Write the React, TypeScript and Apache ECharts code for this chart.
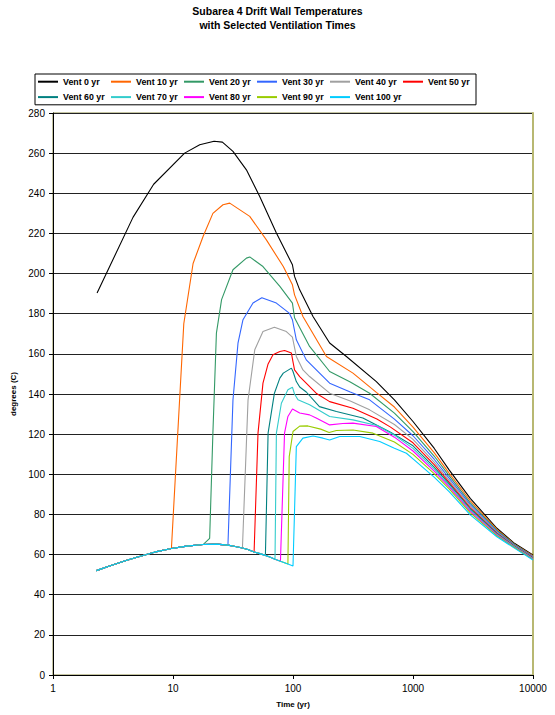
import React, { useEffect, useRef } from "react";
import * as echarts from "echarts";

const TITLE = "Subarea 4 Drift Wall Temperatures\nwith Selected Ventilation Times";
const X_NAME = "Time (yr)";
const Y_NAME = "degrees (C)";

const seriesNames = [
  "Vent 0 yr", "Vent 10 yr", "Vent 20 yr", "Vent 30 yr", "Vent 40 yr", "Vent 50 yr",
  "Vent 60 yr", "Vent 70 yr", "Vent 80 yr", "Vent 90 yr", "Vent 100 yr",
];
const seriesColors = [
  "#000000", "#FF6600", "#339966", "#3366FF", "#A0A0A0", "#FF0000",
  "#008080", "#33CCCC", "#FF00FF", "#99CC00", "#00CCFF",
];
// time at which each ventilated case leaves the shared pre-closure curve
const ventStartTimes = [0, 9.7, 17.8, 28.7, 37.9, 47.4, 58.9, 70.8, 78.6, 90.7, 100];

// shared wall temperature while ventilating
const preVentCurve: number[][] = [
  [2.3, 52], [3, 54.4], [4, 56.9], [5, 58.7], [7, 61.2], [9.7, 63], [13, 64.2],
  [17.8, 65], [23, 65.2], [28.7, 64.7], [33, 64], [37.9, 63.3], [42, 62.5],
  [47.4, 61.3], [52, 60.6], [58.9, 59.6], [64, 58.8], [70.8, 57.7], [78.6, 56.7],
  [90.7, 55.3], [100, 54.3],
];

const vent0: number[][] = [
  [2.33, 190.3], [4.64, 228], [6.9, 244.5], [12.5, 260], [16.7, 264.2], [22, 265.9],
  [25.8, 265.5], [31.6, 260.9], [40.9, 251.7], [52.8, 238.4], [72.7, 220.2],
  [98.9, 204.4], [103, 198.6], [113.7, 191.9], [146.8, 178.6], [202, 165.4],
  [278.6, 158.7], [495, 146.2], [700, 137.1], [1000, 126.3], [1500, 113],
  [2000, 102.2], [3000, 88], [5000, 73.1], [7000, 65.6], [10000, 59.8],
];
const vent10Post: number[][] = [
  [12.3, 175], [14.7, 205], [17.8, 218.5], [21.5, 230], [26.1, 234.3], [29.7, 235.1],
  [43.6, 228.5], [60, 216.8], [83, 203.5], [98.9, 194.4], [103, 189.4], [121, 178.6],
  [190, 158.7], [316, 150.4], [495, 140.8], [700, 133.5], [1000, 123.5], [1500, 110.8],
  [2000, 100.6], [3000, 86.8], [5000, 72.5], [7000, 65.2], [10000, 59.4],
];
const vent20Post: number[][] = [
  [20.2, 68.1], [21.5, 120.5], [23, 170.3], [25.4, 187], [31.6, 201.9], [40.9, 207.7],
  [43.6, 208.3], [56.2, 203.5], [77.7, 193.6], [98.9, 185.3], [103, 178], [137.5, 163.7],
  [202, 151.2], [300, 146], [435, 140.4], [700, 130.5], [1000, 121.3], [1500, 109.1],
  [2000, 99.3], [3000, 85.8], [5000, 72], [7000, 65], [10000, 59.1],
];
const vent30Post: number[][] = [
  [31.6, 137], [34.8, 165.3], [38.3, 177], [46.4, 185.3], [55, 188], [72.7, 185.3],
  [93, 180.3], [98.9, 177], [106.6, 167], [129, 157], [202, 145.4], [300, 141],
  [435, 137.1], [700, 127.5], [1000, 119.2], [1500, 107.5], [2000, 98.1], [3000, 84.9],
  [5000, 71.5], [7000, 64.7], [10000, 58.9],
];
const vent40Post: number[][] = [
  [42.2, 137], [48, 162], [56.2, 171.1], [70, 173.3], [88, 171.1], [98.9, 168.3],
  [106.6, 158.7], [121, 152], [137.5, 148.7], [202, 140.4], [300, 136.5], [435, 132.1],
  [700, 124.8], [1000, 117.4], [1500, 106.1], [2000, 97], [3000, 84.1], [5000, 71.1],
  [7000, 64.4], [10000, 58.6],
];
const vent50Post: number[][] = [
  [51.1, 120.5], [56.2, 145.4], [62, 155], [68.1, 159.5], [77.7, 161.2], [85.1, 161.7],
  [97, 160.4], [100, 156], [103, 152], [113.7, 148.7], [156, 140.4], [202, 136.2],
  [316, 132.9], [500, 127.5], [650, 123.5], [1000, 115.7], [1500, 104.8], [2000, 96],
  [3000, 83.3], [5000, 70.7], [7000, 64.2], [10000, 58.4],
];
const vent60Post: number[][] = [
  [62, 120.5], [70, 140.4], [77.7, 147.9], [83, 150.4], [97, 152.9], [100, 151.2],
  [106.6, 146.2], [113.7, 143.5], [129, 141], [166, 133.7], [230, 131.3], [382, 128],
  [650, 121], [1000, 114.2], [1500, 103.6], [2000, 95.2], [3000, 82.7], [5000, 70.4],
  [7000, 64], [10000, 58.2],
];
const vent70Post: number[][] = [
  [72.7, 120.5], [80, 135.4], [90.7, 142.1], [98.9, 143.4], [103, 140], [110, 137.1],
  [137.5, 134.6], [202, 128.8], [316, 127.1], [500, 124.3], [700, 119.5], [1000, 112.9],
  [1500, 102.6], [2000, 94.4], [3000, 82.1], [5000, 70.1], [7000, 63.9], [10000, 58],
];
const vent80Post: number[][] = [
  [85, 120.5], [90.7, 128.8], [99, 132.5], [113.7, 130.5], [137.5, 129.6], [156, 128],
  [202, 124.6], [260, 125.3], [316, 125.5], [495, 123.8], [700, 118.5], [1000, 111.6],
  [1500, 101.6], [2000, 93.7], [3000, 81.5], [5000, 69.8], [7000, 63.7], [10000, 57.8],
];
const vent90Post: number[][] = [
  [93, 108.8], [100, 121.3], [113.7, 124], [133, 124.1], [170, 122.5], [200, 120.8],
  [230, 121.8], [316, 122.1], [464, 120.5], [700, 116.1], [1000, 109.9], [1500, 100.3],
  [2000, 92.7], [3000, 80.8], [5000, 69.4], [7000, 63.5], [10000, 57.6],
];
const vent100Post: number[][] = [
  [106.6, 113.8], [121, 118], [147, 119.1], [178, 118], [202, 117.1], [245, 118.8],
  [360, 118.8], [528, 116.3], [700, 113], [881, 110.5], [1000, 107.7], [1500, 98.6],
  [2000, 91.4], [3000, 79.8], [5000, 68.9], [7000, 63.2], [10000, 57.3],
];

const postVentData = [
  vent0, vent10Post, vent20Post, vent30Post, vent40Post, vent50Post,
  vent60Post, vent70Post, vent80Post, vent90Post, vent100Post,
];

const FONT = "'Liberation Sans', Arial, sans-serif";

export default function App() {
  const ref = useRef<HTMLDivElement>(null);
  useEffect(() => {
    document.body.style.margin = "0";
    if (!ref.current) return;
    const chart = echarts.init(ref.current, undefined, { renderer: "svg" });
    const series = seriesNames.map((name, i) => {
      const data =
        i === 0
          ? postVentData[0]
          : preVentCurve.filter((p) => p[0] <= ventStartTimes[i]).concat(postVentData[i]);
      return {
        name,
        type: "line",
        data,
        symbol: "none",
        showSymbol: false,
        smooth: false,
        color: seriesColors[i],
        lineStyle: { width: 1.1, color: seriesColors[i] },
        emphasis: { disabled: true },
      };
    });
    chart.setOption({
      animation: false,
      textStyle: { fontFamily: FONT },
      title: {
        text: TITLE,
        left: "center",
        top: 4,
        padding: 0,
        textStyle: { fontSize: 10.5, fontWeight: "bold", color: "#000", lineHeight: 14, fontFamily: FONT },
      },
      legend: {
        data: seriesNames,
        left: 35,
        top: 74,
        width: 445,
        orient: "horizontal",
        icon: "rect",
        padding: [1.5, 3, 1.5, 3],
        itemWidth: 20,
        itemHeight: 2,
        itemGap: 3,
        borderColor: "#000",
        borderWidth: 1,
        textStyle: {
          fontSize: 8.8,
          fontWeight: "bold",
          color: "#000",
          width: 45,
          lineHeight: 12.4,
          fontFamily: FONT,
        },
      },
      grid: {
        left: 53,
        right: 22,
        top: 113,
        bottom: 40,
        show: true,
        borderColor: "#8A8A45",
        borderWidth: 1,
        containLabel: false,
      },
      xAxis: {
        type: "log",
        logBase: 10,
        min: 1,
        max: 10000,
        name: X_NAME,
        nameLocation: "middle",
        nameGap: 25,
        nameTextStyle: { fontSize: 8, fontWeight: "bold", color: "#000", fontFamily: FONT },
        axisLine: { show: true, lineStyle: { color: "#000", width: 1 } },
        axisTick: { show: true, length: 4, lineStyle: { color: "#000" } },
        axisLabel: {
          fontSize: 10,
          color: "#000",
          margin: 8,
          fontFamily: FONT,
          formatter: (v: number) => String(Math.round(v)),
        },
        splitLine: { show: false },
        minorTick: { show: false },
      },
      yAxis: [
        {
          type: "value",
          min: 0,
          max: 280,
          interval: 20,
          name: Y_NAME,
          nameLocation: "middle",
          nameGap: 30,
          nameRotate: 90,
          nameTextStyle: { fontSize: 8, fontWeight: "bold", color: "#000", fontFamily: FONT },
          axisLine: { show: true, lineStyle: { color: "#000", width: 1 } },
          axisTick: { show: true, length: 4, lineStyle: { color: "#000" } },
          axisLabel: { fontSize: 10, color: "#000", margin: 8, fontFamily: FONT },
          splitLine: { show: true, lineStyle: { color: "#222", width: 1 } },
        },
        {
          type: "value",
          min: 0,
          max: 280,
          interval: 20,
          position: "right",
          axisLine: { show: true, lineStyle: { color: "#B8B872", width: 2 } },
          axisTick: { show: false },
          axisLabel: { show: false },
          splitLine: { show: false },
        },
      ],
      series,
    });
    return () => chart.dispose();
  }, []);
  return <div ref={ref} style={{ width: 555, height: 715 }} />;
}
